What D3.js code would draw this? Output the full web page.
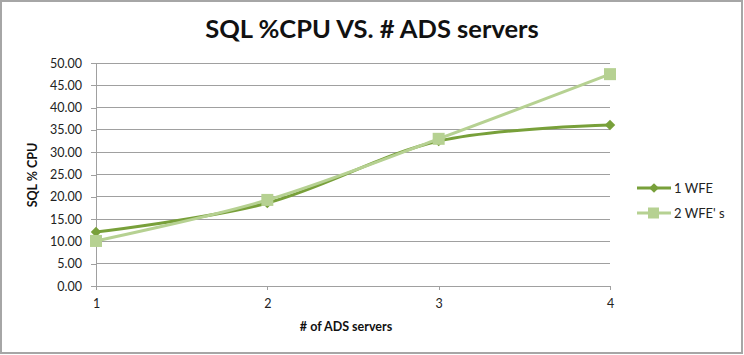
<!DOCTYPE html>
<html><head><meta charset="utf-8">
<script src="https://cdn.jsdelivr.net/npm/d3@7/dist/d3.min.js"></script>
<style>body{margin:0;background:#fff;} svg{display:block;}</style>
</head><body>
<svg id="c" width="744" height="355"></svg>
<script>
const categories = [1, 2, 3, 4];
const series1 = [12.1, 18.6, 32.5, 36.1];   // 1 WFE
const series2 = [10.1, 19.3, 33.0, 47.5];   // 2 WFE' s
const seriesNames = ["1 WFE", "2 WFE' s"];
const yTicks = [0, 5, 10, 15, 20, 25, 30, 35, 40, 45, 50];

const svg = d3.select("#c");
const font = "Lato, 'Open Sans', sans-serif";
svg.append("rect").attr("x",1).attr("y",1).attr("width",741).attr("height",352)
  .attr("fill","#fff").attr("stroke","#a6a6a6").attr("stroke-width",2);

const x = d3.scaleLinear().domain([1,4]).range([96,610]);
const y = d3.scaleLinear().domain([0,50]).range([286,63]);

svg.append("g").selectAll("line").data(yTicks.filter(d=>d>0)).join("line")
  .attr("x1",96).attr("x2",610).attr("y1",d=>y(d)).attr("y2",d=>y(d))
  .attr("stroke","#a0a0a0").attr("stroke-width",1).attr("shape-rendering","crispEdges");

const yAxis = svg.append("g").attr("transform","translate(96,0)")
  .call(d3.axisLeft(y).tickValues(yTicks).tickFormat(d3.format(".2f")).tickSize(5).tickPadding(9));
const xAxis = svg.append("g").attr("transform","translate(0,286)")
  .call(d3.axisBottom(x).tickValues(categories).tickFormat(d3.format("d")).tickSize(4).tickPadding(9));
[yAxis,xAxis].forEach(a=>{
  a.selectAll("path,line").attr("stroke","#a0a0a0").attr("shape-rendering","crispEdges");
  a.selectAll("text").attr("fill","#222").style("font-family",font).style("font-size","12.5px");
});

const line = d3.line().x((d,i)=>x(categories[i])).y(d=>y(d)).curve(d3.curveCardinal.tension(0));
const colors = ["#78a03a","#b6d192"];
const data = [series1, series2];

data.forEach((s,k)=>{
  svg.append("path").datum(s).attr("d",line).attr("fill","none")
    .attr("stroke",colors[k]).attr("stroke-width",3);
});
svg.append("g").selectAll("path").data(series1).join("path")
  .attr("d",d3.symbol().type(d3.symbolDiamond2 || d3.symbolDiamond).size(70))
  .attr("transform",(d,i)=>`translate(${x(categories[i])},${y(d)})`)
  .attr("fill",colors[0]);
svg.append("g").selectAll("rect").data(series2).join("rect")
  .attr("x",(d,i)=>x(categories[i])-6).attr("y",d=>y(d)-6)
  .attr("width",12).attr("height",12).attr("fill",colors[1]);

const lg = svg.append("g");
seriesNames.forEach((n,k)=>{
  const ly = 188 + k*25;
  lg.append("line").attr("x1",637).attr("x2",671).attr("y1",ly).attr("y2",ly)
    .attr("stroke",colors[k]).attr("stroke-width",3);
  if(k===0){
    lg.append("path").attr("d",d3.symbol().type(d3.symbolDiamond2 || d3.symbolDiamond).size(60))
      .attr("transform",`translate(654,${ly})`).attr("fill",colors[0]);
  } else {
    lg.append("rect").attr("x",648).attr("y",ly-5.5).attr("width",11).attr("height",11).attr("fill",colors[1]);
  }
  lg.append("text").attr("x",674).attr("y",ly+4.5).text(n)
    .style("font-family",font).style("font-size","13px").attr("fill","#222");
});

svg.append("text").attr("x",372).attr("y",38).attr("text-anchor","middle")
  .text("SQL %CPU VS. # ADS servers").style("font-family",font).style("font-weight","bold")
  .style("font-size","25.5px").attr("fill","#111");
svg.append("text").attr("transform","translate(37,175) rotate(-90)").attr("text-anchor","middle")
  .text("SQL % CPU").style("font-family",font).style("font-weight","bold")
  .style("font-size","12.5px").attr("fill","#111");
svg.append("text").attr("x",346).attr("y",331).attr("text-anchor","middle")
  .text("# of ADS servers").style("font-family",font).style("font-weight","bold")
  .style("font-size","12.5px").attr("fill","#111");
</script>
</body></html>
